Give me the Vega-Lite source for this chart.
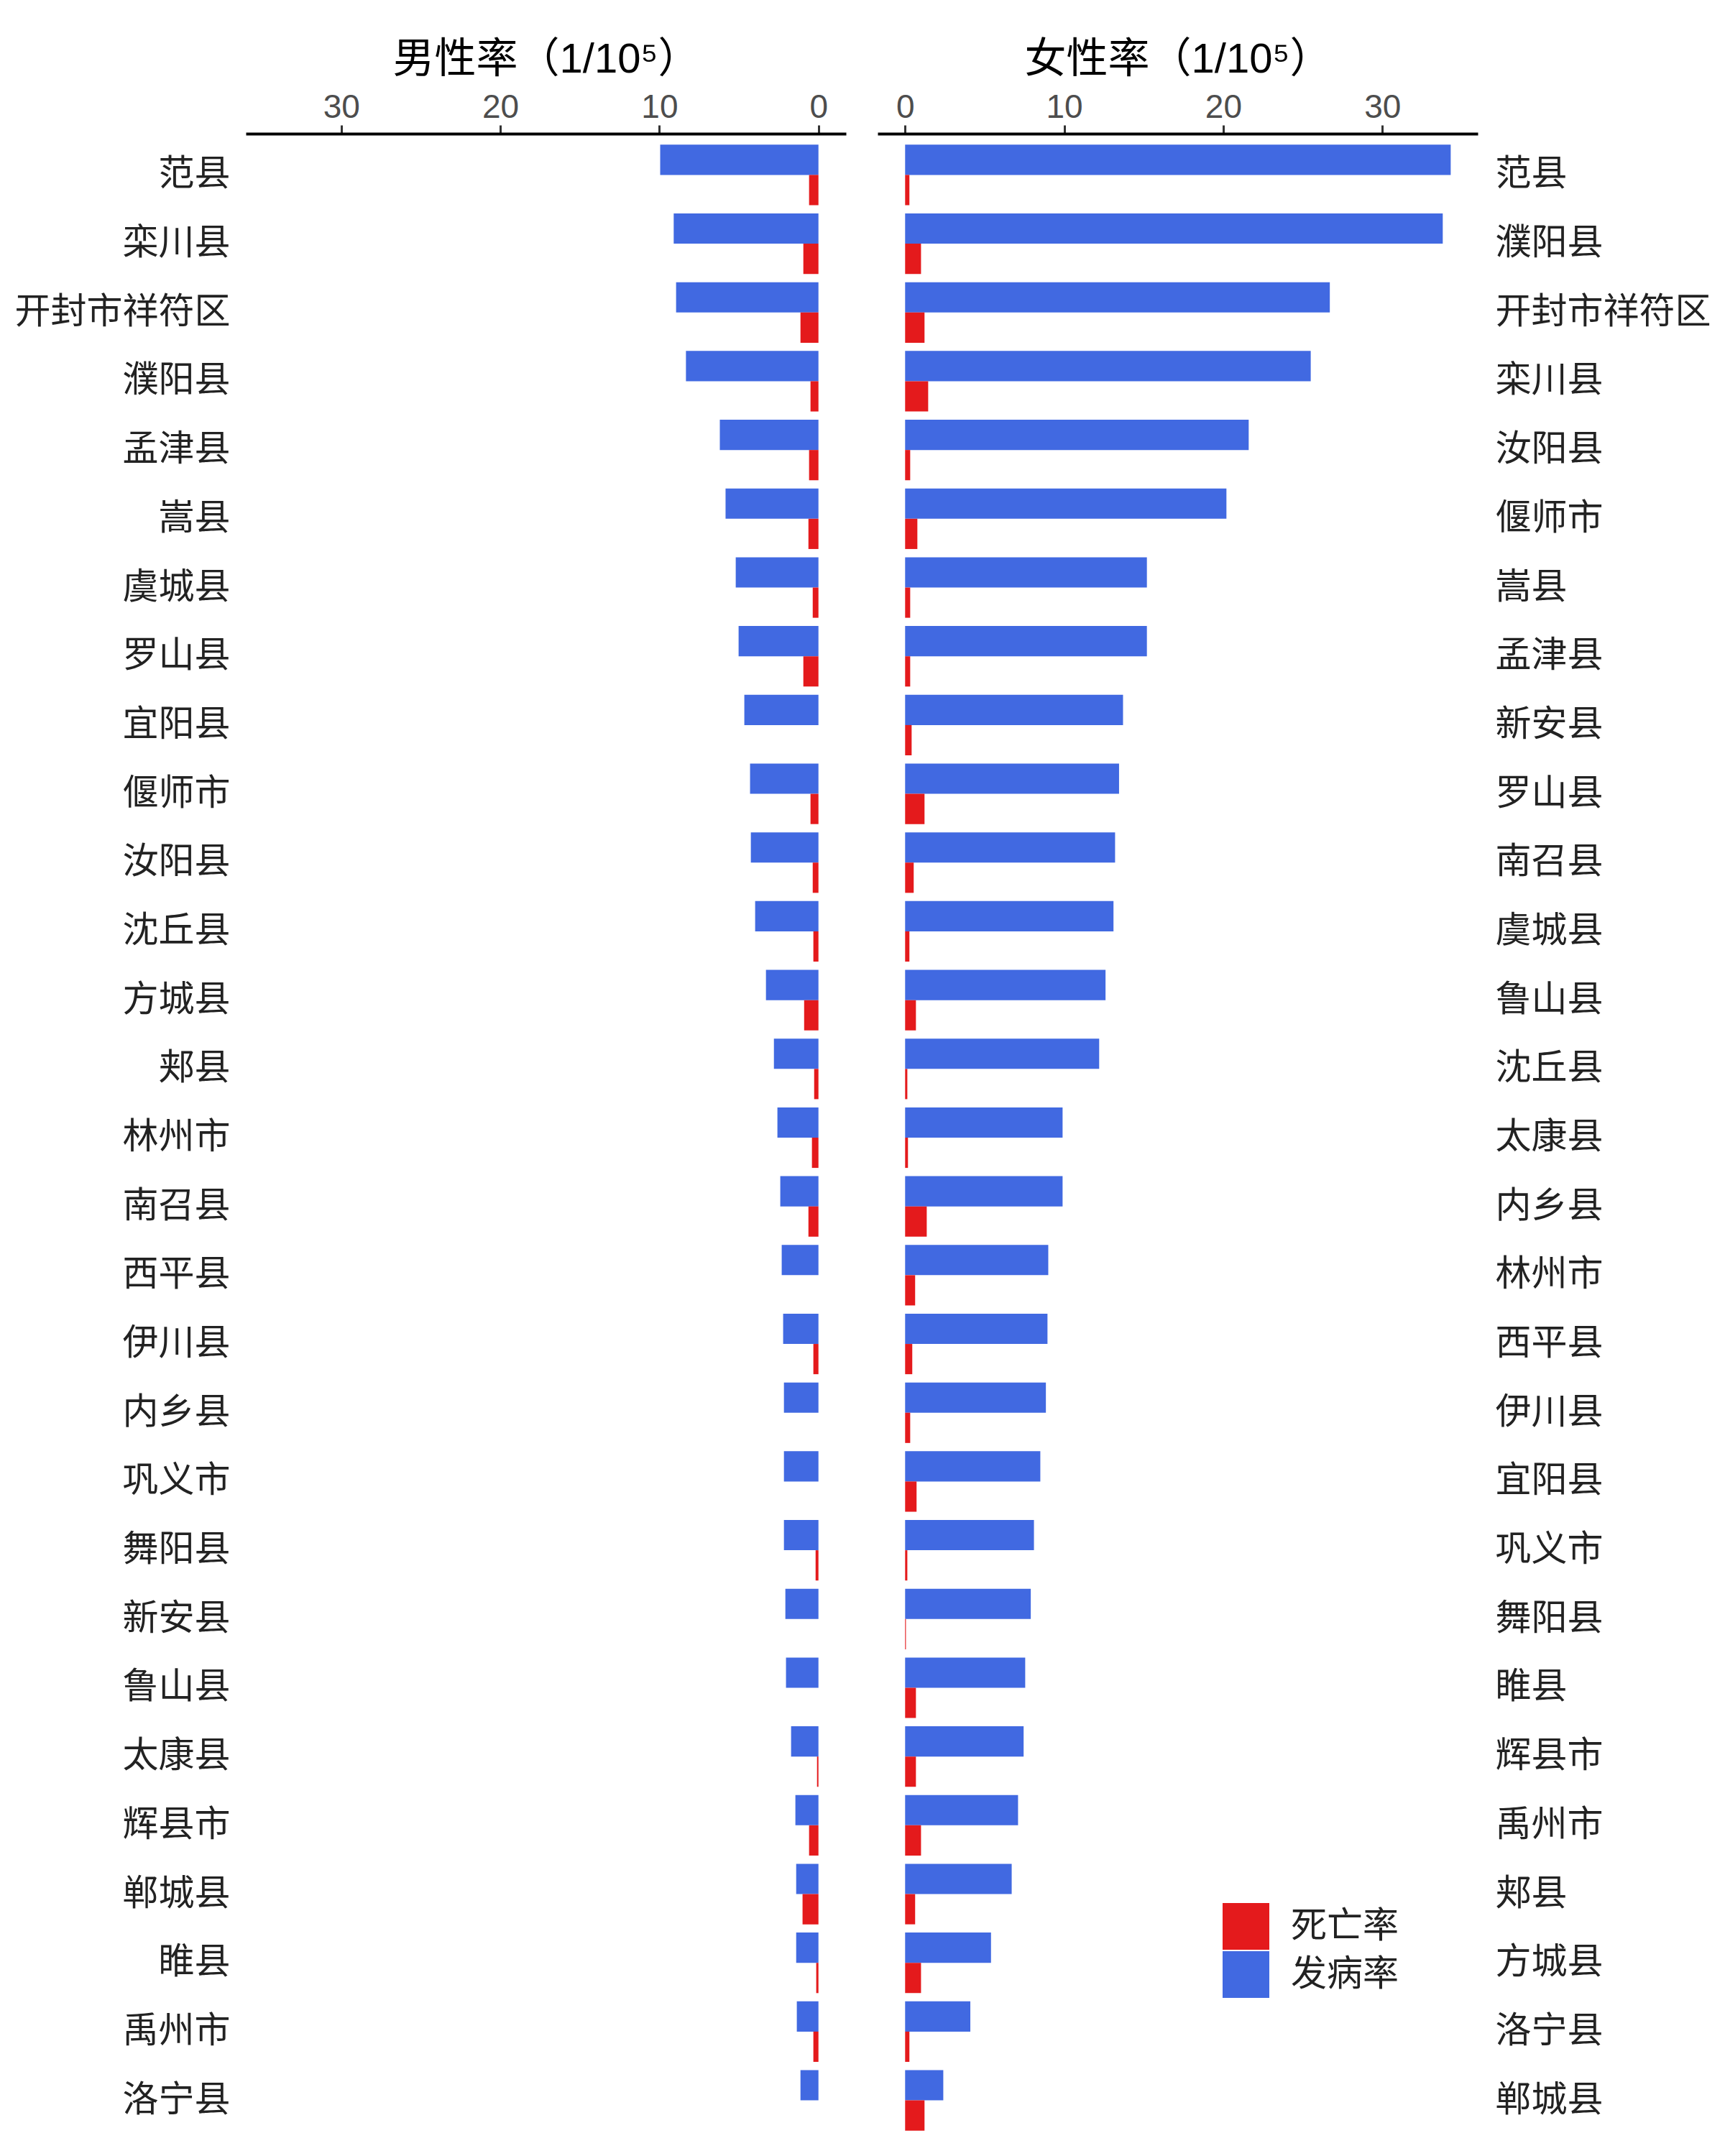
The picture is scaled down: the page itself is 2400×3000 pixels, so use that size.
{
  "$schema": "https://vega.github.io/schema/vega-lite/v6.json",
  "padding": {"left": 20, "top": 54, "right": 0, "bottom": 0},
  "background": "white",
  "spacing": 44,
  "config": {"view": {"stroke": null}, "axis": {"grid": false}},
  "resolve": {"scale": {"color": "shared"}, "legend": {"color": "independent"}},
  "datasets": {
    "male": [
      {"county": "范县", "measure": "发病率", "value": 9.95}, {"county": "范县", "measure": "死亡率", "value": 0.59},
      {"county": "栾川县", "measure": "发病率", "value": 9.1}, {"county": "栾川县", "measure": "死亡率", "value": 0.95},
      {"county": "开封市祥符区", "measure": "发病率", "value": 8.95}, {"county": "开封市祥符区", "measure": "死亡率", "value": 1.13},
      {"county": "濮阳县", "measure": "发病率", "value": 8.33}, {"county": "濮阳县", "measure": "死亡率", "value": 0.5},
      {"county": "孟津县", "measure": "发病率", "value": 6.2}, {"county": "孟津县", "measure": "死亡率", "value": 0.59},
      {"county": "嵩县", "measure": "发病率", "value": 5.84}, {"county": "嵩县", "measure": "死亡率", "value": 0.63},
      {"county": "虞城县", "measure": "发病率", "value": 5.2}, {"county": "虞城县", "measure": "死亡率", "value": 0.36},
      {"county": "罗山县", "measure": "发病率", "value": 5.02}, {"county": "罗山县", "measure": "死亡率", "value": 0.95},
      {"county": "宜阳县", "measure": "发病率", "value": 4.66}, {"county": "宜阳县", "measure": "死亡率", "value": 0},
      {"county": "偃师市", "measure": "发病率", "value": 4.3}, {"county": "偃师市", "measure": "死亡率", "value": 0.5},
      {"county": "汝阳县", "measure": "发病率", "value": 4.25}, {"county": "汝阳县", "measure": "死亡率", "value": 0.36},
      {"county": "沈丘县", "measure": "发病率", "value": 3.98}, {"county": "沈丘县", "measure": "死亡率", "value": 0.32},
      {"county": "方城县", "measure": "发病率", "value": 3.3}, {"county": "方城县", "measure": "死亡率", "value": 0.9},
      {"county": "郏县", "measure": "发病率", "value": 2.8}, {"county": "郏县", "measure": "死亡率", "value": 0.27},
      {"county": "林州市", "measure": "发病率", "value": 2.58}, {"county": "林州市", "measure": "死亡率", "value": 0.41},
      {"county": "南召县", "measure": "发病率", "value": 2.4}, {"county": "南召县", "measure": "死亡率", "value": 0.63},
      {"county": "西平县", "measure": "发病率", "value": 2.31}, {"county": "西平县", "measure": "死亡率", "value": 0},
      {"county": "伊川县", "measure": "发病率", "value": 2.22}, {"county": "伊川县", "measure": "死亡率", "value": 0.32},
      {"county": "内乡县", "measure": "发病率", "value": 2.17}, {"county": "内乡县", "measure": "死亡率", "value": 0},
      {"county": "巩义市", "measure": "发病率", "value": 2.17}, {"county": "巩义市", "measure": "死亡率", "value": 0},
      {"county": "舞阳县", "measure": "发病率", "value": 2.17}, {"county": "舞阳县", "measure": "死亡率", "value": 0.18},
      {"county": "新安县", "measure": "发病率", "value": 2.08}, {"county": "新安县", "measure": "死亡率", "value": 0},
      {"county": "鲁山县", "measure": "发病率", "value": 2.04}, {"county": "鲁山县", "measure": "死亡率", "value": 0},
      {"county": "太康县", "measure": "发病率", "value": 1.72}, {"county": "太康县", "measure": "死亡率", "value": 0.09},
      {"county": "辉县市", "measure": "发病率", "value": 1.45}, {"county": "辉县市", "measure": "死亡率", "value": 0.59},
      {"county": "郸城县", "measure": "发病率", "value": 1.4}, {"county": "郸城县", "measure": "死亡率", "value": 1.0},
      {"county": "睢县", "measure": "发病率", "value": 1.4}, {"county": "睢县", "measure": "死亡率", "value": 0.14},
      {"county": "禹州市", "measure": "发病率", "value": 1.36}, {"county": "禹州市", "measure": "死亡率", "value": 0.32},
      {"county": "洛宁县", "measure": "发病率", "value": 1.13}, {"county": "洛宁县", "measure": "死亡率", "value": 0}
    ],
    "female": [
      {"county": "范县", "measure": "发病率", "value": 34.3}, {"county": "范县", "measure": "死亡率", "value": 0.27},
      {"county": "濮阳县", "measure": "发病率", "value": 33.8}, {"county": "濮阳县", "measure": "死亡率", "value": 1.0},
      {"county": "开封市祥符区", "measure": "发病率", "value": 26.7}, {"county": "开封市祥符区", "measure": "死亡率", "value": 1.22},
      {"county": "栾川县", "measure": "发病率", "value": 25.5}, {"county": "栾川县", "measure": "死亡率", "value": 1.45},
      {"county": "汝阳县", "measure": "发病率", "value": 21.6}, {"county": "汝阳县", "measure": "死亡率", "value": 0.32},
      {"county": "偃师市", "measure": "发病率", "value": 20.2}, {"county": "偃师市", "measure": "死亡率", "value": 0.77},
      {"county": "嵩县", "measure": "发病率", "value": 15.2}, {"county": "嵩县", "measure": "死亡率", "value": 0.32},
      {"county": "孟津县", "measure": "发病率", "value": 15.2}, {"county": "孟津县", "measure": "死亡率", "value": 0.32},
      {"county": "新安县", "measure": "发病率", "value": 13.7}, {"county": "新安县", "measure": "死亡率", "value": 0.41},
      {"county": "罗山县", "measure": "发病率", "value": 13.45}, {"county": "罗山县", "measure": "死亡率", "value": 1.22},
      {"county": "南召县", "measure": "发病率", "value": 13.2}, {"county": "南召县", "measure": "死亡率", "value": 0.54},
      {"county": "虞城县", "measure": "发病率", "value": 13.1}, {"county": "虞城县", "measure": "死亡率", "value": 0.27},
      {"county": "鲁山县", "measure": "发病率", "value": 12.6}, {"county": "鲁山县", "measure": "死亡率", "value": 0.68},
      {"county": "沈丘县", "measure": "发病率", "value": 12.2}, {"county": "沈丘县", "measure": "死亡率", "value": 0.14},
      {"county": "太康县", "measure": "发病率", "value": 9.9}, {"county": "太康县", "measure": "死亡率", "value": 0.18},
      {"county": "内乡县", "measure": "发病率", "value": 9.9}, {"county": "内乡县", "measure": "死亡率", "value": 1.36},
      {"county": "林州市", "measure": "发病率", "value": 9.0}, {"county": "林州市", "measure": "死亡率", "value": 0.63},
      {"county": "西平县", "measure": "发病率", "value": 8.95}, {"county": "西平县", "measure": "死亡率", "value": 0.45},
      {"county": "伊川县", "measure": "发病率", "value": 8.85}, {"county": "伊川县", "measure": "死亡率", "value": 0.32},
      {"county": "宜阳县", "measure": "发病率", "value": 8.5}, {"county": "宜阳县", "measure": "死亡率", "value": 0.72},
      {"county": "巩义市", "measure": "发病率", "value": 8.1}, {"county": "巩义市", "measure": "死亡率", "value": 0.14},
      {"county": "舞阳县", "measure": "发病率", "value": 7.9}, {"county": "舞阳县", "measure": "死亡率", "value": 0.05},
      {"county": "睢县", "measure": "发病率", "value": 7.55}, {"county": "睢县", "measure": "死亡率", "value": 0.68},
      {"county": "辉县市", "measure": "发病率", "value": 7.45}, {"county": "辉县市", "measure": "死亡率", "value": 0.68},
      {"county": "禹州市", "measure": "发病率", "value": 7.1}, {"county": "禹州市", "measure": "死亡率", "value": 1.0},
      {"county": "郏县", "measure": "发病率", "value": 6.7}, {"county": "郏县", "measure": "死亡率", "value": 0.63},
      {"county": "方城县", "measure": "发病率", "value": 5.4}, {"county": "方城县", "measure": "死亡率", "value": 1.0},
      {"county": "洛宁县", "measure": "发病率", "value": 4.1}, {"county": "洛宁县", "measure": "死亡率", "value": 0.27},
      {"county": "郸城县", "measure": "发病率", "value": 2.4}, {"county": "郸城县", "measure": "死亡率", "value": 1.22}
    ]
  },
  "hconcat": [
    {
      "data": {"name": "male"},
      "width": 835,
      "height": 2794,
      "mark": {"type": "bar"},
      "encoding": {
        "y": {
          "field": "county", "type": "nominal",
          "sort": ["范县","栾川县","开封市祥符区","濮阳县","孟津县","嵩县","虞城县","罗山县","宜阳县","偃师市","汝阳县","沈丘县","方城县","郏县","林州市","南召县","西平县","伊川县","内乡县","巩义市","舞阳县","新安县","鲁山县","太康县","辉县市","郸城县","睢县","禹州市","洛宁县"],
          "scale": {"paddingInner": 0.12, "paddingOuter": 0.16},
          "axis": {"orient": "left", "title": null, "ticks": false, "domain": false, "labelPadding": 22, "labelLimit": 0, "labelFont": "Noto Sans CJK SC", "labelFontSize": 50, "labelColor": "#222222"}
        },
        "yOffset": {"field": "measure", "type": "nominal", "sort": ["发病率", "死亡率"], "scale": {"paddingInner": 0, "paddingOuter": 0}},
        "x": {
          "field": "value", "type": "quantitative",
          "scale": {"domain": [-1.73, 36], "reverse": true, "nice": false, "zero": false},
          "axis": {"orient": "top", "values": [0, 10, 20, 30], "title": "男性率（1/10⁵）", "titleFont": "Liberation Sans, Noto Sans CJK SC", "titleFontSize": 58, "titleFontWeight": "normal", "titleColor": "#000000", "titlePadding": 14, "labelFont": "Liberation Sans", "labelFontSize": 46, "labelColor": "#4D4D4D", "labelPadding": 1, "tickColor": "#333333", "tickWidth": 3, "tickSize": 12, "domainColor": "#000000", "domainWidth": 4}
        },
        "color": {"field": "measure", "type": "nominal", "scale": {"domain": ["死亡率", "发病率"], "range": ["#E41A1C", "#4169E1"]}, "legend": null}
      }
    },
    {
      "data": {"name": "female"},
      "width": 835,
      "height": 2794,
      "mark": {"type": "bar"},
      "encoding": {
        "y": {
          "field": "county", "type": "nominal",
          "sort": ["范县","濮阳县","开封市祥符区","栾川县","汝阳县","偃师市","嵩县","孟津县","新安县","罗山县","南召县","虞城县","鲁山县","沈丘县","太康县","内乡县","林州市","西平县","伊川县","宜阳县","巩义市","舞阳县","睢县","辉县市","禹州市","郏县","方城县","洛宁县","郸城县"],
          "scale": {"paddingInner": 0.12, "paddingOuter": 0.16},
          "axis": {"orient": "right", "title": null, "ticks": false, "domain": false, "labelPadding": 24, "labelLimit": 0, "labelFont": "Noto Sans CJK SC", "labelFontSize": 50, "labelColor": "#222222"}
        },
        "yOffset": {"field": "measure", "type": "nominal", "sort": ["发病率", "死亡率"], "scale": {"paddingInner": 0, "paddingOuter": 0}},
        "x": {
          "field": "value", "type": "quantitative",
          "scale": {"domain": [-1.73, 36], "nice": false, "zero": false},
          "axis": {"orient": "top", "values": [0, 10, 20, 30], "title": "女性率（1/10⁵）", "titleFont": "Liberation Sans, Noto Sans CJK SC", "titleFontSize": 58, "titleFontWeight": "normal", "titleColor": "#000000", "titlePadding": 14, "labelFont": "Liberation Sans", "labelFontSize": 46, "labelColor": "#4D4D4D", "labelPadding": 1, "tickColor": "#333333", "tickWidth": 3, "tickSize": 12, "domainColor": "#000000", "domainWidth": 4}
        },
        "color": {
          "field": "measure", "type": "nominal",
          "scale": {"domain": ["死亡率", "发病率"], "range": ["#E41A1C", "#4169E1"]},
          "legend": {"orient": "none", "legendX": 480, "legendY": 2462, "title": null, "symbolType": "square", "symbolSize": 4225, "symbolStrokeWidth": 0, "symbolOpacity": 1, "labelFont": "Noto Sans CJK SC", "labelFontSize": 50, "labelColor": "#222222", "labelOffset": 30, "rowPadding": 2}
        }
      }
    }
  ]
}
